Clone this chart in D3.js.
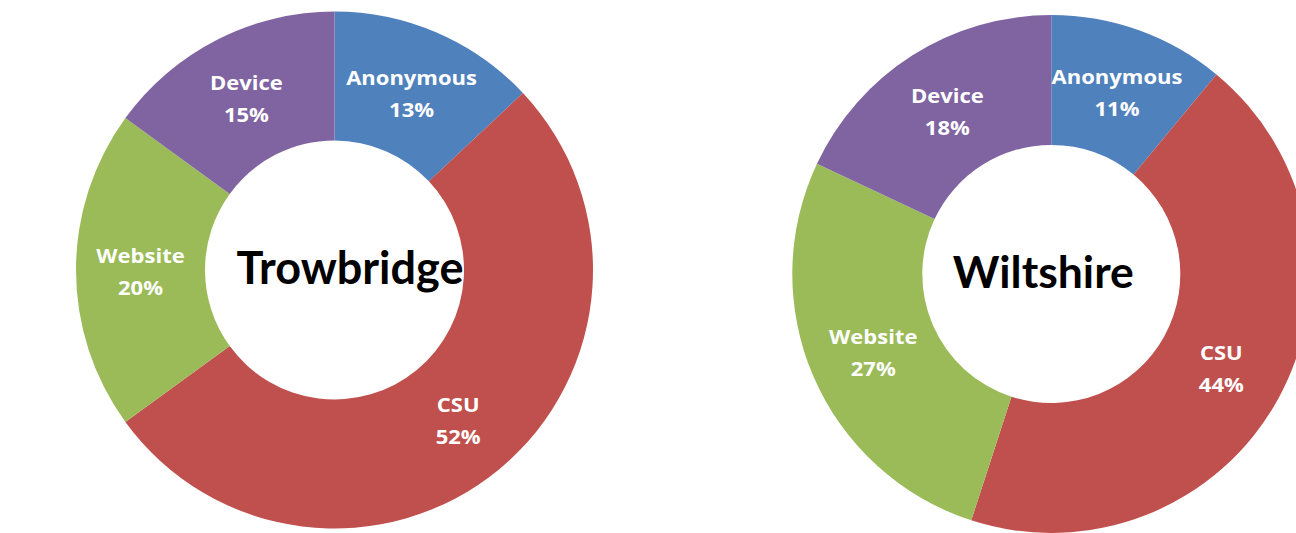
<!DOCTYPE html>
<html>
<head>
<meta charset="utf-8">
<script src="https://cdn.jsdelivr.net/npm/d3@7"></script>
<style>
  html, body { margin: 0; padding: 0; background: #fff; }
  svg { display: block; }
  text { font-weight: bold; }
  .title { font-family: Lato, "Open Sans", sans-serif; }
  .lbl { font-family: "Open Sans", Lato, sans-serif; }
</style>
</head>
<body>
<svg id="chart" width="1296" height="533"></svg>
<script>
const categories = ["Anonymous", "CSU", "Website", "Device"];
const colors = ["#4F81BD", "#C0504D", "#9BBB59", "#8064A2"];
const trowbridgeValues = [13, 52, 20, 15];
const wiltshireValues = [11, 44, 27, 18];
const chartTitles = ["Trowbridge", "Wiltshire"];

const svg = d3.select("#chart");
const color = d3.scaleOrdinal().domain(categories).range(colors);

const donuts = [
  { title: chartTitles[0], values: trowbridgeValues, cx: 334.5, cy: 270, R: 258.5, r: 129.5, titleSize: 45, titleDx: 15.5 },
  { title: chartTitles[1], values: wiltshireValues, cx: 1051.3, cy: 274, R: 259, r: 129, titleSize: 44.5, titleDx: -8 }
];

const pie = d3.pie().sort(null).value(d => d.value);

donuts.forEach(cfg => {
  const data = categories.map((c, i) => ({ name: c, value: cfg.values[i] }));
  const arcs = pie(data);
  const arc = d3.arc().innerRadius(cfg.r).outerRadius(cfg.R);
  const g = svg.append("g").attr("transform", `translate(${cfg.cx},${cfg.cy})`);

  g.selectAll("path.slice").data(arcs).join("path")
    .attr("class", "slice")
    .attr("d", arc)
    .attr("fill", d => color(d.data.name));

  const lbl = g.selectAll("text.lbl").data(arcs).join("text")
    .attr("class", "lbl")
    .attr("transform", d => `translate(${arc.centroid(d)}) scale(1.1,1)`)
    .attr("text-anchor", "middle")
    .attr("fill", "#fff")
    .style("font-size", "20px");
  lbl.append("tspan").attr("x", 0).attr("y", -7).text(d => d.data.name);
  lbl.append("tspan").attr("x", 0).attr("y", 25).text(d => d.data.value + "%");

  g.append("text")
    .attr("class", "title")
    .attr("text-anchor", "middle")
    .attr("x", cfg.titleDx)
    .attr("y", 14)
    .attr("fill", "#000")
    .style("font-size", cfg.titleSize + "px")
    .text(cfg.title);
});
</script>
</body>
</html>
